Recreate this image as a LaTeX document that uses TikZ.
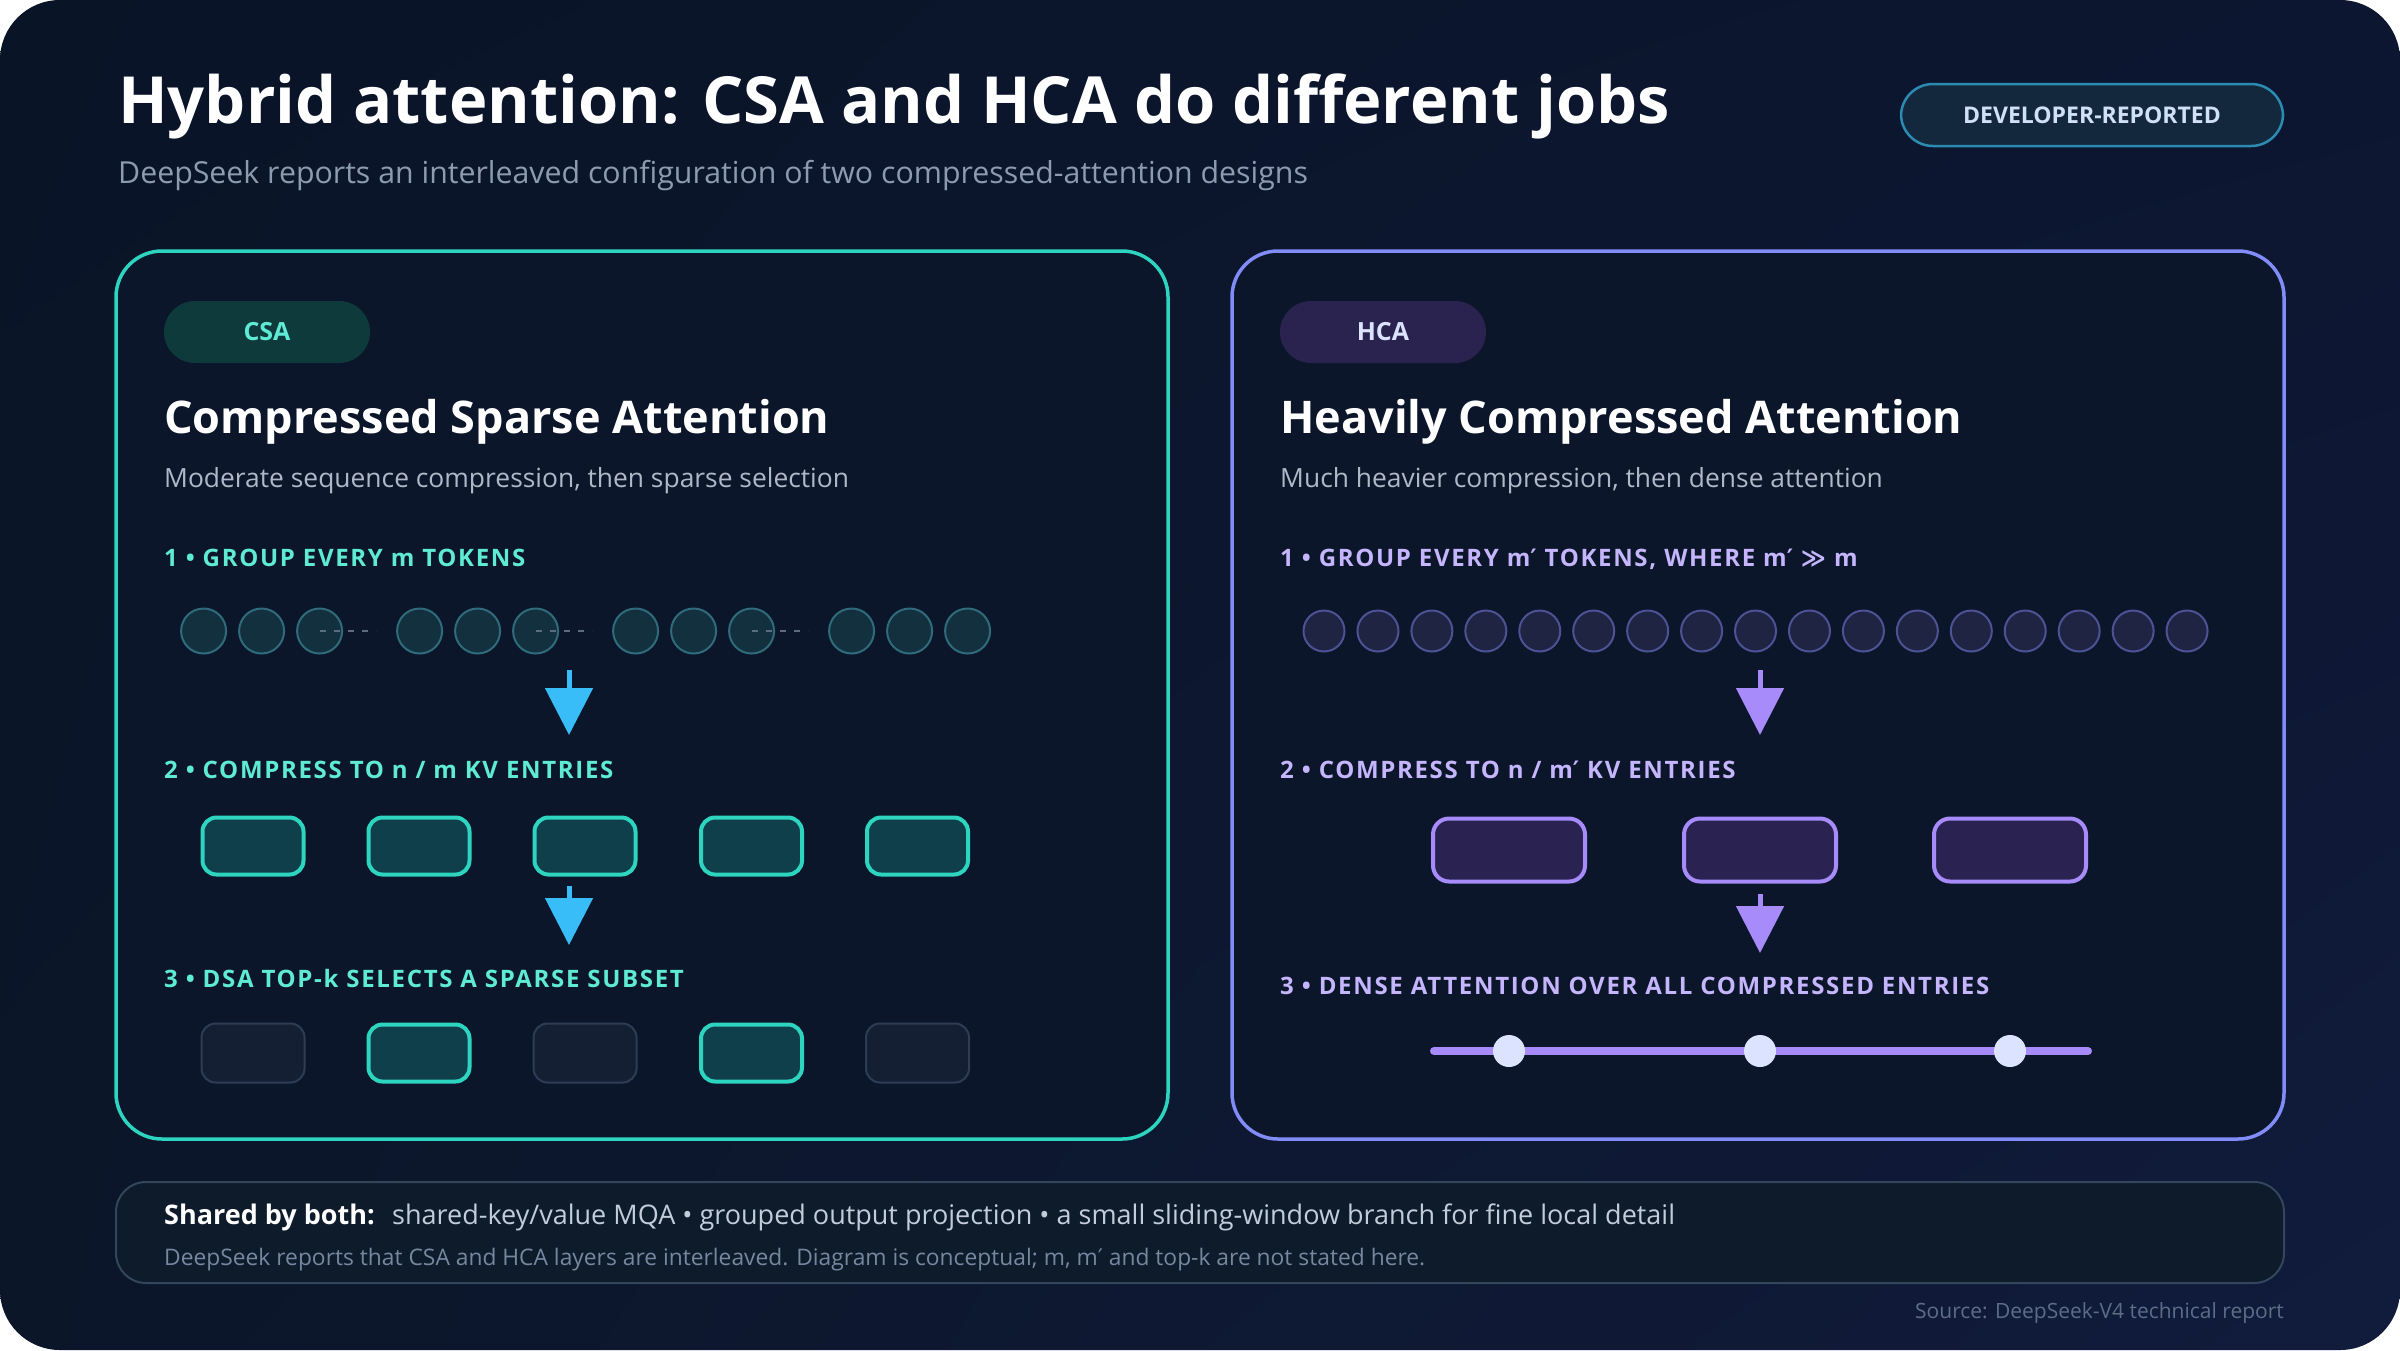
\documentclass[tikz,border=0pt]{standalone}
\usepackage{fontspec}
\setmainfont{Open Sans}
\newfontfamily\capsfont{Open Sans}[LetterSpace=7]
\newfontfamily\symf{DejaVu Sans}
\usetikzlibrary{arrows.meta,shadings}

\definecolor{bgtl}{HTML}{0A1427}
\definecolor{bgtr}{HTML}{0C1630}
\definecolor{bgbl}{HTML}{0B1629}
\definecolor{bgbr}{HTML}{111B3C}
\definecolor{panelfill}{HTML}{0B162A}
\definecolor{csateal}{HTML}{2DD4BF}
\definecolor{csatxt}{HTML}{5EEAD4}
\definecolor{csaboxfill}{HTML}{0F3F4A}
\definecolor{csapill}{HTML}{0F3A3C}
\definecolor{csatokfill}{HTML}{13303F}
\definecolor{csatokdraw}{HTML}{2F6B7A}
\definecolor{sky}{HTML}{38BDF8}
\definecolor{hcaedge}{HTML}{818CF8}
\definecolor{hcaviolet}{HTML}{A78BFA}
\definecolor{hcatxt}{HTML}{C4B5FD}
\definecolor{hcaboxfill}{HTML}{2A2352}
\definecolor{hcapill}{HTML}{2A2350}
\definecolor{hcatokfill}{HTML}{1F2442}
\definecolor{hcatokdraw}{HTML}{4C5394}
\definecolor{hcadotfill}{HTML}{DBE3FF}
\definecolor{offfill}{HTML}{151F33}
\definecolor{offdraw}{HTML}{2E3C55}
\definecolor{tokdash}{HTML}{5B6B80}
\definecolor{subgray}{HTML}{8D9BB0}
\definecolor{panelsub}{HTML}{AEB8C6}
\definecolor{footfill}{HTML}{0D1B2B}
\definecolor{footdraw}{HTML}{33465C}
\definecolor{foottxt}{HTML}{C3CCD9}
\definecolor{notetxt}{HTML}{7887A0}
\definecolor{srctxt}{HTML}{5D6D86}
\definecolor{badgefill}{HTML}{13283D}
\definecolor{badgedraw}{HTML}{2B8BB0}
\definecolor{badgetxt}{HTML}{CFE0F7}

\begin{document}
\begin{tikzpicture}[x=1pt, y=-1pt,
  txt/.style={anchor=base west, inner sep=0pt},
  pill/.style={rectangle, rounded corners=31pt, minimum width=206pt, minimum height=62pt, inner sep=0pt,
    font=\fontsize{25}{30}\selectfont\bfseries},
  steplbl/.style={txt, font=\capsfont\bfseries\fontsize{24}{29}\selectfont},
  csatok/.style={circle, fill=csatokfill, draw=csatokdraw, line width=2pt, minimum size=45pt, inner sep=0pt},
  hcatok/.style={circle, fill=hcatokfill, draw=hcatokdraw, line width=2pt, minimum size=41pt, inner sep=0pt},
  csabox/.style={rectangle, rounded corners=14pt, fill=csaboxfill, draw=csateal, line width=4pt,
    minimum width=101pt, minimum height=57pt, inner sep=0pt},
  offbox/.style={csabox, fill=offfill, draw=offdraw, line width=2pt, minimum width=103pt, minimum height=59pt},
  hcabox/.style={rectangle, rounded corners=16pt, fill=hcaboxfill, draw=hcaviolet, line width=4pt,
    minimum width=152pt, minimum height=63pt, inner sep=0pt},
  hcadot/.style={circle, fill=hcadotfill, minimum size=32pt, inner sep=0pt},
  csaarrow/.style={draw=sky, line width=5pt, -{Triangle[width=47pt,length=47pt]}},
  hcaarrow/.style={draw=hcaviolet, line width=5pt, -{Triangle[width=47pt,length=47pt]}}]

\useasboundingbox (0,0) rectangle (2400,1350);

% Background
\fill[white] (0,0) rectangle (2400,1350);
\shade[rounded corners=60pt, upper left=bgtl, upper right=bgtr, lower left=bgbl, lower right=bgbr]
  (0,0) rectangle (2400,1350);

% Title
\node[txt, text=white, font=\fontsize{65}{76}\selectfont\bfseries] (title) at (118,123)
  {Hybrid attention: CSA and HCA do different jobs};
\node[txt, text=subgray, font=\fontsize{30.3}{36}\selectfont] (subtitle) at (118,183)
  {DeepSeek reports an interleaved configuration of two compressed-attention designs};
\node[rectangle, rounded corners=32pt, minimum width=382pt, minimum height=62pt, inner sep=0pt,
  fill=badgefill, draw=badgedraw, line width=2.5pt, text=badgetxt,
  font=\fontsize{23}{28}\selectfont\bfseries] (badge) at (2092,115) {DEVELOPER-REPORTED};

% Panels
\draw[fill=panelfill, draw=csateal, line width=3.5pt, rounded corners=46pt] (116,251) rectangle (1168,1139);
\draw[fill=panelfill, draw=hcaedge, line width=3.5pt, rounded corners=46pt] (1232,251) rectangle (2284,1139);

% ---- CSA ----
\node[pill, fill=csapill, text=csatxt] (csapill) at (267,332) {CSA};
\node[txt, text=white, font=\fontsize{45}{54}\selectfont\bfseries] (csahead) at (164,433)
  {Compressed Sparse Attention};
\node[txt, text=panelsub, font=\fontsize{26.4}{32}\selectfont] (csasub) at (164,487)
  {Moderate sequence compression, then sparse selection};

\node[steplbl, text=csatxt] (csa1) at (164,566) {1 • GROUP EVERY m TOKENS};
\foreach \g in {0,...,3}
  \foreach \i in {0,1,2}
    \node[csatok] (t\g\i) at ({203.6+216*\g+58*\i},631) {};
\foreach \g in {0,1,2}
  \draw[tokdash, line width=2.5pt, dash pattern=on 6pt off 8pt] (t\g2.center) -- ++(56,0);

\coordinate (ca1s) at (569,670);
\coordinate (ca1e) at (569,735);
\draw[csaarrow] (ca1s) -- (ca1e);

\node[steplbl, text=csatxt] (csa2) at (164,778) {2 • COMPRESS TO n / m KV ENTRIES};
\foreach \i/\x in {1/253,2/419,3/585,4/751.5,5/917.5}
  \node[csabox] (c\i) at (\x,846) {};

\coordinate (ca2s) at (569,886);
\coordinate (ca2e) at (569,945);
\draw[csaarrow] (ca2s) -- (ca2e);

\node[steplbl, text=csatxt] (csa3) at (164,987) {3 • DSA TOP-k SELECTS A SPARSE SUBSET};
\foreach \i/\x/\s in {1/253/offbox,2/419/csabox,3/585/offbox,4/751.5/csabox,5/917.5/offbox}
  \node[\s] (s\i) at (\x,1053) {};

% ---- HCA ----
\node[pill, fill=hcapill, text=hcadotfill] (hcapill) at (1383,332) {HCA};
\node[txt, text=white, font=\fontsize{45}{54}\selectfont\bfseries] (hcahead) at (1280,433)
  {Heavily Compressed Attention};
\node[txt, text=panelsub, font=\fontsize{26.4}{32}\selectfont] (hcasub) at (1280,487)
  {Much heavier compression, then dense attention};

\node[steplbl, text=hcatxt] (hca1) at (1280,566)
  {1 • GROUP EVERY m{\symf ′} TOKENS, WHERE m{\symf ′} {\symf ≫} m};
\foreach \i in {0,...,16}
  \node[hcatok] (h\i) at ({1324+53.94*\i},631) {};

\coordinate (ha1s) at (1760,670);
\coordinate (ha1e) at (1760,735);
\draw[hcaarrow] (ha1s) -- (ha1e);

\node[steplbl, text=hcatxt] (hca2) at (1280,778) {2 • COMPRESS TO n / m{\symf ′} KV ENTRIES};
\foreach \i/\x in {1/1509,2/1760,3/2010}
  \node[hcabox] (k\i) at (\x,850) {};

\coordinate (ha2s) at (1760,894);
\coordinate (ha2e) at (1760,953);
\draw[hcaarrow] (ha2s) -- (ha2e);

\node[steplbl, text=hcatxt] (hca3) at (1280,994) {3 • DENSE ATTENTION OVER ALL COMPRESSED ENTRIES};
\coordinate (ls) at (1434,1051);
\coordinate (le) at (2088,1051);
\draw[hcaviolet, line width=8pt, line cap=round] (ls) -- (le);
\foreach \i in {1,2,3}
  \node[hcadot] (d\i) at (k\i.center |- ls) {};

% Footer
\draw[fill=footfill, draw=footdraw, line width=2pt, rounded corners=30pt] (116,1182) rectangle (2284,1283);
\node[txt, text=white, font=\fontsize{27}{32}\selectfont\bfseries] (shared) at (164,1224) {Shared by both:};
\node[txt, text=foottxt, font=\fontsize{27}{32}\selectfont] (sharedtxt) at (392,1224)
  {shared-key/value MQA • grouped output projection • a small sliding-window branch for fine local detail};
\node[txt, text=notetxt, font=\fontsize{22.8}{27}\selectfont] (note) at (164,1265)
  {DeepSeek reports that CSA and HCA layers are interleaved. Diagram is conceptual; m, m{\symf ′} and top-k are not stated here.};
\node[anchor=base east, inner sep=0pt, text=srctxt, font=\fontsize{21}{26}\selectfont] (source) at (2284,1318)
  {Source: DeepSeek-V4 technical report};
\end{tikzpicture}
\end{document}
